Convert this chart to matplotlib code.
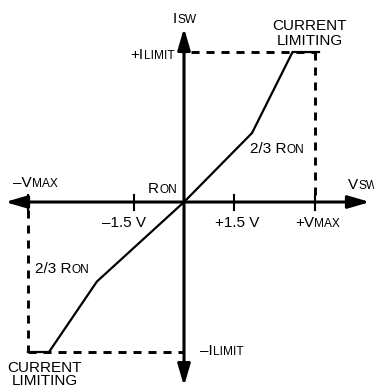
import matplotlib
matplotlib.use('Agg')
import matplotlib.pyplot as plt

plt.rcParams['font.family'] = ['Liberation Sans', 'DejaVu Sans']
plt.rcParams['lines.scale_dashes'] = False

# switch characteristic (schematic units: volts on x, I / ILIMIT on y)
curve_v = [-4.66, -4.03, -2.6, 0.0, 2.03, 3.24, 4.03]
curve_i = [-1.0, -1.0, -0.53, 0.0, 0.46, 1.0, 1.0]
v_ticks = [-4.66, -1.5, 1.5, 3.91]
v_max_neg = -4.66
v_max_pos = 3.91
i_limit = 1.0

BIG = 11
SMALL = 8.6

fig = plt.figure(figsize=(3.74, 3.88), dpi=100)
ax = fig.add_axes([0, 0, 1, 1])
ax.set_xlim(-5.493, 5.672)
ax.set_ylim(-1.24, 1.347)
ax.axis('off')


def arrow(x0, y0, x1, y1, style):
    ax.annotate('', xy=(x1, y1), xytext=(x0, y0),
                arrowprops=dict(arrowstyle=style + ',head_length=13,head_width=3.8',
                                mutation_scale=1, lw=2.2, color='k',
                                shrinkA=0, shrinkB=0))


def label(x, y, parts, ha='left'):
    # parts: list of (text, small caps?)
    prev = None
    for s, small in parts:
        fs = SMALL if small else BIG
        if prev is None:
            prev = ax.text(x, y, s, fontsize=fs, ha=ha, va='baseline')
        else:
            prev = ax.annotate(s, xy=(1, 0), xycoords=prev, fontsize=fs,
                               ha='left', va='bottom')


# axes with arrows
arrow(-5.34, 0, 5.55, 0, '<|-|>')
arrow(0, -1.227, 0, 1.16, '<|-|>')

# ticks
for v in v_ticks:
    ax.plot([v, v], [-0.05, 0.05], color='k', lw=1.5)

# dashed limit box
dash = dict(color='k', lw=2.1, dashes=(5.8, 5.0))
ax.plot([0.2, v_max_pos], [i_limit, i_limit], **dash)
ax.plot([v_max_pos, v_max_pos], [i_limit, 0.05], **dash)
ax.plot([v_max_neg, v_max_neg], [-0.05, -i_limit], **dash)
ax.plot([v_max_neg, 0], [-i_limit, -i_limit], **dash)

# characteristic
ax.plot(curve_v, curve_i, color='k', lw=1.6, solid_joinstyle='miter')

# labels
label(-0.33, 1.193, [('I', False), ('SW', True)])
label(-1.6, 0.953, [('+I', False), ('LIMIT', True)])
ax.text(3.76, 1.15, 'CURRENT', fontsize=BIG, ha='center', va='baseline')
ax.text(3.76, 1.047, 'LIMITING', fontsize=BIG, ha='center', va='baseline')
label(1.97, 0.33, [('2/3 R', False), ('ON', True)])
label(-5.1, 0.097, [('\u2013V', False), ('MAX', True)])
label(-1.07, 0.06, [('R', False), ('ON', True)])
label(4.9, 0.087, [('V', False), ('SW', True)])
ax.text(-2.45, -0.167, '\u20131.5 V', fontsize=BIG, ha='left', va='baseline')
ax.text(0.925, -0.167, '+1.5 V', fontsize=BIG, ha='left', va='baseline')
label(3.31, -0.167, [('+V', False), ('MAX', True)])
label(-4.45, -0.473, [('2/3 R', False), ('ON', True)])
label(0.48, -1.02, [('\u2013I', False), ('LIMIT', True)])
ax.text(-4.15, -1.13, 'CURRENT', fontsize=BIG, ha='center', va='baseline')
ax.text(-4.15, -1.222, 'LIMITING', fontsize=BIG, ha='center', va='baseline')

fig.savefig('out.png', dpi=100)
